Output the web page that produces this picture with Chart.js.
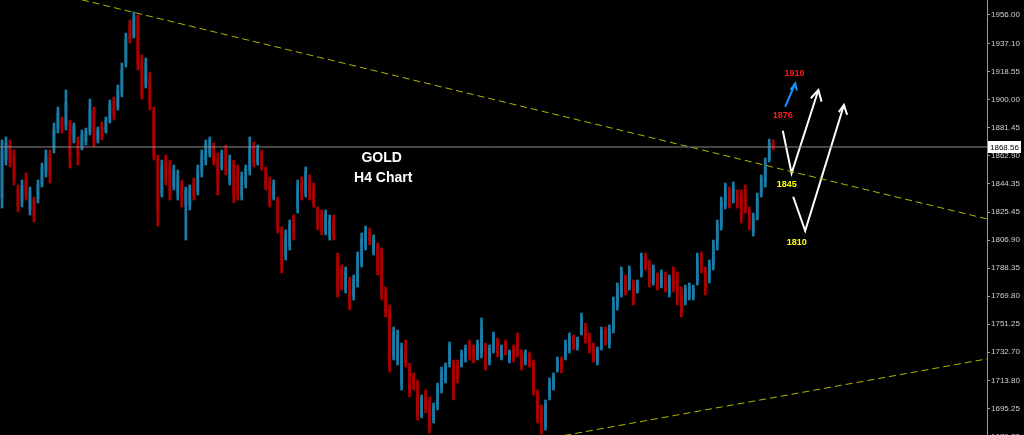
<!DOCTYPE html>
<html><head><meta charset="utf-8">
<script src="https://cdn.jsdelivr.net/npm/chart.js@4.4.1/dist/chart.umd.min.js"></script>
<style>html,body{margin:0;padding:0;background:#000;overflow:hidden}#wrap{width:1024px;height:435px;position:relative}</style>
</head><body><div id="wrap"><canvas id="c"></canvas></div>
<script>
// H4 candles (oldest -> newest)
const highs=[1873.2,1875.2,1873.2,1866.6,1843.4,1846.7,1851.3,1842.0,1835.4,1846.7,
1857.9,1866.6,1866.6,1884.4,1895.0,1888.4,1906.3,1886.4,1884.4,1875.2,
1879.8,1881.1,1900.3,1895.0,1881.8,1885.1,1888.4,1899.7,1901.7,1909.6,
1924.2,1944.0,1952.7,1958.0,1956.0,1929.5,1927.5,1918.2,1895.0,1863.2,
1859.9,1863.2,1859.9,1856.6,1853.3,1846.7,1842.0,1843.4,1848.0,1856.6,
1866.6,1873.2,1875.2,1871.2,1864.6,1866.6,1869.9,1863.2,1859.9,1856.6,
1852.0,1856.6,1875.2,1871.9,1869.9,1866.6,1855.3,1848.7,1846.7,1835.4,
1815.6,1813.6,1820.2,1823.5,1846.7,1848.7,1855.3,1850.0,1844.7,1828.8,
1826.8,1826.8,1823.5,1823.5,1798.3,1790.4,1789.1,1782.4,1783.8,1799.0,
1811.6,1816.2,1814.9,1810.3,1805.0,1801.6,1775.8,1763.9,1749.3,1747.3,
1738.7,1740.7,1725.5,1718.9,1714.2,1704.3,1707.6,1703.0,1699.0,1712.2,
1722.8,1725.5,1739.4,1727.5,1727.5,1734.1,1737.4,1740.7,1737.4,1740.7,
1755.3,1738.7,1737.4,1746.0,1742.0,1737.4,1740.7,1734.1,1737.4,1745.4,
1734.1,1734.1,1732.8,1727.5,1707.6,1697.7,1701.0,1715.6,1718.9,1729.5,
1729.5,1740.7,1745.4,1744.0,1742.7,1758.6,1752.0,1745.4,1738.7,1736.1,
1749.3,1749.3,1750.7,1769.2,1778.5,1789.1,1783.8,1789.7,1780.5,1780.5,
1798.3,1798.3,1793.7,1790.4,1785.1,1787.1,1785.8,1783.8,1789.1,1785.8,
1775.8,1777.1,1778.5,1777.1,1798.3,1799.0,1789.1,1793.7,1806.9,1820.2,
1835.4,1844.7,1842.0,1845.4,1840.1,1840.1,1843.4,1828.8,1824.8,1838.1,
1850.0,1861.3,1873.8,1873.2];
const lows=[1828.1,1856.6,1855.3,1843.4,1825.5,1828.8,1833.4,1823.5,1818.9,1831.5,
1842.0,1848.7,1844.7,1864.6,1877.8,1877.8,1879.8,1854.6,1871.2,1856.6,
1866.6,1869.9,1876.5,1868.5,1871.2,1873.2,1877.8,1884.4,1886.4,1893.0,
1901.7,1921.5,1937.4,1940.7,1919.5,1900.3,1907.6,1893.0,1859.9,1816.2,
1835.4,1843.4,1833.4,1840.1,1833.4,1828.8,1806.9,1826.8,1833.4,1836.8,
1848.7,1856.6,1861.9,1856.6,1836.8,1853.3,1850.0,1843.4,1831.5,1833.4,
1833.4,1841.4,1850.0,1855.3,1856.6,1853.3,1840.1,1828.8,1833.4,1811.6,
1785.1,1793.7,1800.3,1806.9,1824.8,1833.4,1835.4,1833.4,1828.8,1813.6,
1810.3,1810.3,1806.9,1806.9,1769.2,1773.8,1771.8,1760.6,1767.2,1775.8,
1789.1,1800.3,1803.6,1797.0,1783.8,1767.2,1755.9,1719.5,1727.5,1724.2,
1707.6,1722.8,1703.0,1707.6,1687.7,1689.1,1692.4,1679.1,1685.7,1694.4,
1705.6,1712.2,1722.8,1701.0,1712.2,1722.8,1726.1,1727.5,1725.5,1727.5,
1728.8,1720.8,1724.2,1732.1,1729.5,1727.5,1730.8,1725.5,1726.1,1729.5,
1720.8,1724.2,1722.8,1704.3,1685.7,1678.5,1681.1,1701.0,1707.6,1719.5,
1718.9,1727.5,1732.1,1734.1,1734.1,1744.0,1738.7,1732.1,1726.1,1724.2,
1734.1,1737.4,1735.4,1745.4,1760.6,1769.2,1770.5,1773.8,1763.9,1771.8,
1782.4,1787.1,1775.8,1777.1,1773.8,1775.2,1772.5,1769.2,1772.5,1763.9,
1755.9,1763.9,1767.2,1767.2,1777.1,1785.1,1770.5,1778.5,1787.1,1800.3,
1813.6,1827.5,1828.1,1831.5,1828.1,1818.2,1824.8,1813.6,1809.6,1820.2,
1835.4,1842.0,1858.6,1866.6];
const opens=[1835,1860,1870,1862,1841,1832,1847,1827,1833,1834,
1844,1852,1863,1868,1881,1886,1883,1884,1873,1873,
1868,1872,1879,1892,1873,1883,1879,1886,1899,1895,
1905,1924,1950,1942,1954,1926,1910,1915,1893,1861,
1838,1860,1856,1842,1837,1844,1830,1830,1845,1839,
1852,1860,1864,1869,1861,1855,1867,1846,1857,1853,
1836,1844,1853,1868,1858,1864,1854,1845,1835,1833,
1813,1796,1803,1821,1828,1846,1838,1848,1842,1827,
1824,1813,1810,1821,1796,1788,1774,1780,1770,1779,
1792,1803,1812,1799,1803,1799,1773,1761,1730,1727,
1712,1738,1723,1717,1712,1691,1705,1700,1688,1697,
1708,1714,1725,1725,1725,1724,1728,1738,1735,1729,
1732,1736,1726,1734,1740,1729,1739,1727,1736,1743,
1732,1726,1731,1725,1705,1695,1683,1703,1709,1721,
1728,1729,1734,1743,1736,1745,1750,1743,1737,1726,
1736,1747,1738,1748,1763,1772,1782,1776,1778,1773,
1784,1797,1791,1779,1784,1777,1784,1771,1787,1783,
1773,1766,1769,1769,1779,1797,1787,1780,1790,1803,
1816,1830,1840,1833,1838,1837,1841,1827,1812,1822,
1837,1845,1860,1871];
const closes=[1866,1871,1858,1847,1829,1843,1837,1839,1822,1844,
1855,1863,1850,1880,1891,1880,1898,1862,1882,1862,
1877,1879,1893,1872,1880,1875,1886,1897,1889,1906,
1920,1940,1940,1955,1923,1903,1924,1896,1863,1825,
1856,1847,1838,1853,1850,1832,1840,1841,1836,1853,
1863,1870,1873,1859,1845,1864,1853,1860,1836,1837,
1849,1854,1868,1858,1867,1856,1842,1831,1844,1815,
1790,1810,1817,1810,1843,1836,1852,1836,1831,1816,
1813,1824,1820,1809,1772,1776,1786,1763,1781,1796,
1808,1813,1806,1808,1787,1772,1759,1725,1746,1744,
1735,1726,1706,1710,1691,1702,1695,1683,1697,1709,
1720,1723,1737,1705,1715,1732,1735,1730,1727,1738,
1748,1724,1735,1744,1731,1736,1732,1733,1728,1731,
1723,1732,1724,1707,1688,1681,1699,1713,1717,1728,
1721,1738,1743,1736,1741,1756,1741,1734,1728,1734,
1747,1739,1748,1766,1776,1786,1773,1787,1767,1779,
1796,1789,1778,1788,1776,1785,1774,1782,1775,1768,
1759,1775,1777,1775,1795,1787,1773,1791,1804,1817,
1832,1842,1830,1843,1830,1822,1827,1816,1822,1835,
1848,1858,1871,1868.56];

// price axis tick labels
const yTickValues=[1956.00,1937.10,1918.55,1900.00,1881.45,1862.90,1844.35,1825.45,1806.90,1788.35,1769.80,1751.25,1732.70,1713.80,1695.25,1676.70];

// drawn annotations (bar index, price)
const upperTrend=[{x:20,y:1966.0},{x:246.5,y:1820.9}];
const lowerTrend=[{x:138,y:1676.2},{x:246.5,y:1728.2}];
const pathA=[{x:195.4,y:1879.3},{x:197.6,y:1851.1},{x:204.3,y:1906.3}];
const headA=[{x:202.4,y:1900.8},{x:204.3,y:1906.3},{x:205.1,y:1898.6}];
const pathB=[{x:198.0,y:1835.6},{x:201.0,y:1813.1},{x:210.7,y:1896.4}];
const headB=[{x:209.4,y:1891.6},{x:210.7,y:1896.4},{x:211.5,y:1889.9}];
const blueArrow=[{x:196.0,y:1895.2},{x:198.5,y:1910.7}];
const blueHead=[{x:197.3,y:1906.3},{x:198.5,y:1910.7},{x:198.9,y:1906.0}];
const noteTexts=['1910','1876','1845','1810','GOLD','H4 Chart'];
const noteX=[198.3,195.4,196.4,198.9,95.0,95.4];
const noteY=[1917.4,1889.1,1843.4,1805.4,1861.1,1847.8];

const UP='#1a7da8', DOWN='#ad0000';
const barColors=opens.map((o,i)=>closes[i]>=o?UP:DOWN);
const last=closes[closes.length-1];
const priceLine=[{x:-0.5,y:last},{x:246.5,y:last}];

const noteStyles=[
 {color:'#ff1a1a',font:'bold 9px "Liberation Sans", Arial'},
 {color:'#ff1a1a',font:'bold 9px "Liberation Sans", Arial'},
 {color:'#ffff00',font:'bold 9px "Liberation Sans", Arial'},
 {color:'#ffff00',font:'bold 9px "Liberation Sans", Arial'},
 {color:'#ffffff',font:'bold 14px "Liberation Sans", Arial'},
 {color:'#ffffff',font:'bold 14px "Liberation Sans", Arial'}];

const overlay={id:'overlay',
 afterDatasetsDraw(chart){
  const ctx=chart.ctx,xs=chart.scales.x,ys=chart.scales.y;
  ctx.save();
  ctx.textAlign='center';ctx.textBaseline='middle';
  noteTexts.forEach((t,i)=>{ctx.fillStyle=noteStyles[i].color;ctx.font=noteStyles[i].font;
    ctx.fillText(t,xs.getPixelForValue(noteX[i]),ys.getPixelForValue(noteY[i]));});
  ctx.restore();
 },
 afterDraw(chart){
  const ctx=chart.ctx,ys=chart.scales.y,ca=chart.chartArea;
  const y=Math.round(ys.getPixelForValue(last));
  ctx.save();
  ctx.fillStyle='#ffffff';ctx.fillRect(ca.right+1,y-6,33,12);
  ctx.fillStyle='#000';ctx.font='8px "Liberation Sans", Arial';ctx.textBaseline='middle';ctx.textAlign='left';
  ctx.fillText(last.toFixed(2),ca.right+3,y+0.5);
  ctx.restore();
 }};

const lineDs=(data,color,width,dash)=>({type:'line',data,borderColor:color,borderWidth:width,borderDash:dash||[],
  pointRadius:0,fill:false,tension:0,order:-1});

new Chart(document.getElementById('c'),{
 type:'bar',
 data:{datasets:[
  {data:highs.map((h,i)=>({x:i,y:[lows[i],h]})),backgroundColor:barColors,barThickness:2,grouped:false,borderWidth:0,order:2},
  {data:opens.map((o,i)=>({x:i,y:[o,closes[i]]})),backgroundColor:barColors,barThickness:2,grouped:false,borderWidth:0,order:1},
  lineDs(priceLine,'#8a8a8a',1),
  lineDs(upperTrend,'#b3b300',1,[7,4]),
  lineDs(lowerTrend,'#b3b300',1,[7,4]),
  lineDs(pathA,'#ffffff',2),
  lineDs(headA,'#ffffff',2),
  lineDs(pathB,'#ffffff',2),
  lineDs(headB,'#ffffff',2),
  lineDs(blueArrow,'#1e90ff',2),
  lineDs(blueHead,'#1e90ff',2)
 ]},
 options:{responsive:true,maintainAspectRatio:false,animation:false,
  layout:{padding:0},
  plugins:{legend:{display:false},tooltip:{enabled:false}},
  scales:{
   x:{type:'linear',min:-0.5,max:246.5,offset:false,display:false},
   y:{position:'right',min:1677.8,max:1965.9,beginAtZero:false,
    afterBuildTicks:s=>{s.ticks=yTickValues.map(v=>({value:v}));},
    afterFit:s=>{s.width=37;s.paddingTop=0;s.paddingBottom=0;},
    grid:{drawOnChartArea:false,drawTicks:true,tickLength:3,color:'#9a9a9a'},
    border:{display:true,color:'#9a9a9a'},
    ticks:{autoSkip:false,padding:1,color:'#d0d0d0',font:{family:'"Liberation Sans", Arial',size:8},
     callback:v=>Number(v).toFixed(2)}}
  }},
 plugins:[overlay]
});
</script></body></html>
